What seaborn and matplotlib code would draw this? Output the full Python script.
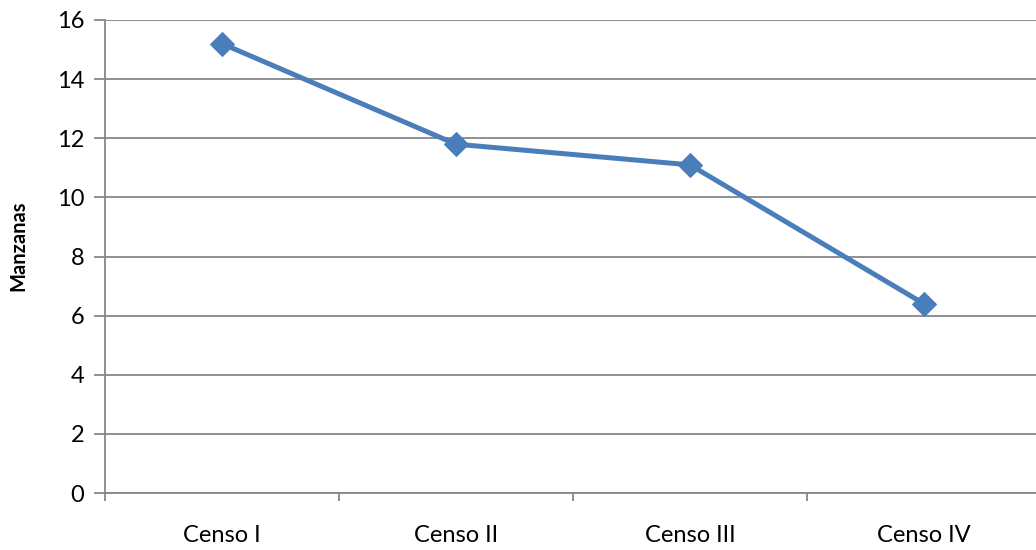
import matplotlib
matplotlib.use("Agg")
import matplotlib.pyplot as plt
from matplotlib.ticker import FixedLocator
import seaborn as sns

censos = ["Censo I", "Censo II", "Censo III", "Censo IV"]
manzanas = [15.2, 11.8, 11.1, 6.4]
y_ticks = [0, 2, 4, 6, 8, 10, 12, 14, 16]

sns.set_theme(style="white")
plt.rcParams["font.family"] = ["Lato", "DejaVu Sans"]

fig = plt.figure(figsize=(10.36, 5.5), dpi=100)
ax = fig.add_axes([105 / 1036, 57 / 550, 931 / 1036, 473 / 550])

grid_color = "#878787"
line_color = "#4A7EBB"

sns.lineplot(x=censos, y=manzanas, ax=ax, color=line_color, linewidth=3.6,
             marker="D", markersize=12.5, markeredgecolor=line_color,
             markerfacecolor=line_color, sort=False)

ax.set_ylim(0, 16)
ax.set_xlim(-0.5, 3.5 - 5 / 234)
ax.set_yticks(y_ticks)
ax.set_yticklabels([str(t) for t in y_ticks], fontsize=17, color="#000000")
ax.yaxis.grid(True, color=grid_color, linewidth=1.3)
ax.xaxis.grid(False)
ax.set_axisbelow(True)

ax.set_xticks(range(len(censos)))
ax.set_xticklabels(censos, fontsize=17, color="#000000")
ax.xaxis.set_minor_locator(FixedLocator([-0.5, 0.5, 1.5, 2.5, 3.5]))
ax.tick_params(axis="x", which="major", length=0, pad=23)
ax.tick_params(axis="x", which="minor", length=6, width=1.3, color=grid_color,
               direction="out", bottom=True)
ax.tick_params(axis="y", which="major", length=8, width=1.3, color=grid_color,
               direction="out", left=True, pad=7)

for side in ["top", "right"]:
    ax.spines[side].set_visible(False)
for side in ["left", "bottom"]:
    ax.spines[side].set_color(grid_color)
    ax.spines[side].set_linewidth(1.3)

ax.set_xlabel("")
ax.set_ylabel("Manzanas", fontsize=14.5, fontweight="bold", color="#000000",
              va="center")
ax.yaxis.set_label_coords(-0.093, 0.522)

fig.savefig("out.png", dpi=100)
